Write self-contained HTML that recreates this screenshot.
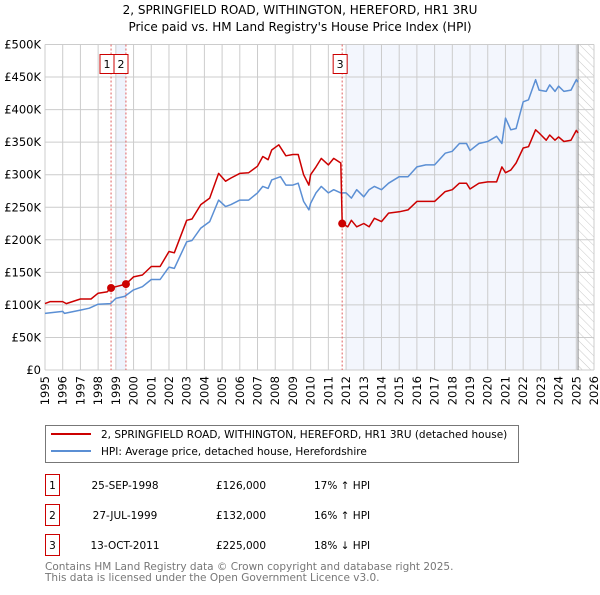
<!DOCTYPE html>
<html><head><meta charset="utf-8"><style>
body{margin:0;background:#fff;font-family:"Liberation Sans","DejaVu Sans",sans-serif;}
svg text{font-family:"DejaVu Sans","Liberation Sans",sans-serif;}
</style></head><body>
<svg width="600" height="590" viewBox="0 0 600 590" xmlns="http://www.w3.org/2000/svg">
<defs><pattern id="hatch" width="6" height="6" patternUnits="userSpaceOnUse" patternTransform="rotate(-45)"><line x1="0" y1="0" x2="0" y2="6" stroke="#bbb" stroke-width="0.8"/></pattern></defs>
<text x="300" y="14" text-anchor="middle" font-size="12" fill="#000">2, SPRINGFIELD ROAD, WITHINGTON, HEREFORD, HR1 3RU</text>
<text x="300" y="31" text-anchor="middle" font-size="12" fill="#000">Price paid vs. HM Land Registry's House Price Index (HPI)</text>
<g id="plot"></g>
<g id="legend">
<rect x="45.5" y="425.5" width="473" height="37" fill="#fff" stroke="#777"/>
<line x1="51" y1="434" x2="91" y2="434" stroke="#cc0000" stroke-width="2"/>
<text x="101" y="438" font-size="10.5">2, SPRINGFIELD ROAD, WITHINGTON, HEREFORD, HR1 3RU (detached house)</text>
<line x1="51" y1="451" x2="91" y2="451" stroke="#5b8fd4" stroke-width="2"/>
<text x="101" y="455" font-size="10.5">HPI: Average price, detached house, Herefordshire</text>
</g>
<g id="table" font-size="10.5"></g>
<text x="45" y="570" font-size="10.5" fill="#777">Contains HM Land Registry data © Crown copyright and database right 2025.</text>
<text x="45" y="581" font-size="10.5" fill="#777">This data is licensed under the Open Government Licence v3.0.</text>
</svg>
<script>
const yearTicks=[1995,1996,1997,1998,1999,2000,2001,2002,2003,2004,2005,2006,2007,2008,2009,2010,2011,2012,2013,2014,2015,2016,2017,2018,2019,2020,2021,2022,2023,2024,2025,2026];
const valueTicks=[0,50000,100000,150000,200000,250000,300000,350000,400000,450000,500000];
const valueLabels=["£0","£50K","£100K","£150K","£200K","£250K","£300K","£350K","£400K","£450K","£500K"];
const hpiDates=[1995,1996,1996.1,1997,1997.5,1998,1998.7,1999,1999.5,2000,2000.5,2001,2001.5,2002,2002.3,2003,2003.3,2003.8,2004.3,2004.8,2005.2,2005.5,2006,2006.5,2007,2007.3,2007.6,2007.8,2008.3,2008.6,2009,2009.3,2009.6,2009.9,2010,2010.3,2010.6,2011,2011.3,2011.7,2012,2012.3,2012.6,2013,2013.3,2013.6,2014,2014.4,2015,2015.5,2016,2016.5,2017,2017.6,2018,2018.4,2018.8,2019,2019.5,2020,2020.5,2020.8,2021,2021.3,2021.6,2022,2022.3,2022.7,2022.9,2023.3,2023.5,2023.8,2024,2024.3,2024.7,2025,2025.1];
const hpiValues=[87,90,87,92,95,101,102,110,113,123,128,139,139,158,156,197,199,218,228,261,251,254,261,261,272,282,279,292,297,284,284,287,259,246,256,272,282,272,277,272,272,264,277,266,277,282,277,287,297,297,312,315,315,333,336,348,348,337,348,351,359,348,387,369,371,412,415,446,430,428,438,428,436,428,430,446,442];
const priceDates=[1995,1995.3,1996,1996.2,1997,1997.6,1998,1998.5,1998.73,1999,1999.57,2000,2000.5,2001,2001.5,2002,2002.3,2003,2003.3,2003.8,2004.3,2004.8,2005.2,2005.5,2006,2006.5,2007,2007.3,2007.6,2007.8,2008.2,2008.6,2009,2009.3,2009.6,2009.9,2010,2010.3,2010.6,2011,2011.3,2011.7,2011.78,2012.1,2012.3,2012.6,2013,2013.3,2013.6,2014,2014.4,2015,2015.5,2016,2016.5,2017,2017.6,2018,2018.4,2018.8,2019,2019.5,2020,2020.5,2020.8,2021,2021.3,2021.6,2022,2022.3,2022.7,2022.9,2023.3,2023.5,2023.8,2024,2024.3,2024.7,2025,2025.1];
const priceValues=[102,105,105,102,109,109,118,120,126,128,132,143,146,159,159,182,180,230,232,254,264,302,290,295,302,303,313,328,323,338,346,329,331,331,300,284,300,312,325,315,325,318,225,220,230,220,225,220,233,228,241,243,246,259,259,259,274,277,287,287,278,287,289,289,312,303,307,318,341,343,369,364,353,361,353,358,351,353,368,364];
const saleLabels=["1","2","3"];
const saleDates=[1998.73,1999.57,2011.78];
const saleValues=[126000,132000,225000];
const saleDateText=["25-SEP-1998","27-JUL-1999","13-OCT-2011"];
const salePriceText=["£126,000","£132,000","£225,000"];
const saleHpiText=["17% ↑ HPI","16% ↑ HPI","18% ↓ HPI"];

const NS="http://www.w3.org/2000/svg";
const X0=45,X1=594,Y0=370,Y1=44.5,T0=1995,T1=2026,VMAX=500000;
const xs=t=>X0+(t-T0)/(T1-T0)*(X1-X0);
const ys=v=>Y0-v/VMAX*(Y0-Y1);
function mk(tag,attrs,parent){const e=document.createElementNS(NS,tag);for(const k in attrs)e.setAttribute(k,attrs[k]);parent.appendChild(e);return e;}
const plot=document.getElementById('plot');
let s1=mk('rect',{x:xs(1999.0),y:Y1,width:xs(saleDates[1])-xs(1999.0),height:Y0-Y1,fill:'#eef3fc'},plot);


let s2=mk('rect',{x:xs(2012.0),y:Y1,width:xs(2025.1)-xs(2012.0),height:Y0-Y1,fill:'#f3f6fd'},plot);


let h=mk('rect',{x:xs(2025.1),y:Y1,width:X1-xs(2025.1),height:Y0-Y1,fill:'url(#hatch)'},plot);


yearTicks.forEach(t=>{
  mk('line',{x1:xs(t),x2:xs(t),y1:Y1,y2:Y0,stroke:'#ccc','stroke-width':1},plot);
  const tx=mk('text',{x:0,y:0,'font-size':11.5,'text-anchor':'end',transform:`translate(${xs(t)+4},${Y0+6}) rotate(-90)`},plot);
  tx.textContent=t;
  
  
});
valueTicks.forEach((v,i)=>{
  mk('line',{x1:X0,x2:X1,y1:ys(v),y2:ys(v),stroke:'#ccc','stroke-width':1},plot);
  const tx=mk('text',{x:X0-4,y:ys(v)+4,'font-size':11.5,'text-anchor':'end'},plot);
  tx.textContent=valueLabels[i];
  
  
});
mk('line',{x1:xs(2025.1),x2:xs(2025.1),y1:Y1,y2:Y0,stroke:'#888','stroke-width':1},plot);
saleDates.forEach(d=>mk('line',{x1:xs(d),x2:xs(d),y1:Y1,y2:Y0,stroke:'#e06060','stroke-width':1,'stroke-dasharray':'2,2'},plot));
function line(ds,vs,color,name){
  const p=mk('polyline',{points:ds.map((d,i)=>xs(d).toFixed(1)+','+ys(vs[i]*1000).toFixed(1)).join(' '),fill:'none',stroke:color,'stroke-width':1.5,'stroke-linejoin':'round'},plot);
  
  
}
line(hpiDates,hpiValues,'#5b8fd4','hpi-line');
line(priceDates,priceValues,'#cc0000','price-paid-line');
saleDates.forEach((d,i)=>{
  const c=mk('circle',{cx:xs(d),cy:ys(saleValues[i]),r:4,fill:'#cc0000'},plot);
  
  
});
const boxX=[107,121,xs(saleDates[2])-2];
saleLabels.forEach((l,i)=>{
  const g=mk('g',{},plot);
  
  
  mk('rect',{x:boxX[i]-7,y:54.5,width:14,height:19,fill:'#fff',stroke:'#cc0000','stroke-width':1},g);
  const t=mk('text',{x:boxX[i],y:68,'font-size':11,'text-anchor':'middle'},g);
  t.textContent=l;
});
const tb=document.getElementById('table');
const rowY=[485,515,545];
saleLabels.forEach((l,i)=>{
  const g=mk('g',{},tb);
  
  
  mk('rect',{x:45.5,y:rowY[i]-10.5,width:14,height:21,fill:'#fff',stroke:'#cc0000'},g);
  let t=mk('text',{x:52.5,y:rowY[i]+4,'text-anchor':'middle'},g);t.textContent=l;
  t=mk('text',{x:125,y:rowY[i]+4,'text-anchor':'middle'},g);t.textContent=saleDateText[i];
  t=mk('text',{x:241,y:rowY[i]+4,'text-anchor':'middle'},g);t.textContent=salePriceText[i];
  t=mk('text',{x:314,y:rowY[i]+4},g);t.textContent=saleHpiText[i];
});
</script>
</body></html>
